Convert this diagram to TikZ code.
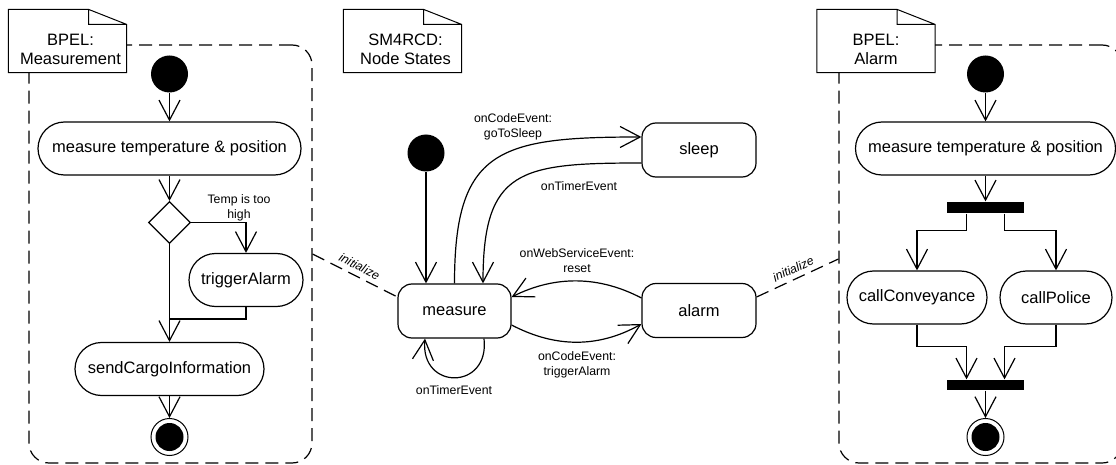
\documentclass[tikz,border=0pt]{standalone}
\usepackage{fontspec}
\setmainfont{Liberation Sans}
\usetikzlibrary{arrows.meta,calc,shapes.geometric}

% outline of a UML note with a folded top-right corner
\newcommand\foldnote[1]{%
  \draw[line width=1pt] (#1.south west) -- (#1.north west) -- ($(#1.north east)+(-38,0)$)
    -- ($(#1.north east)+(0,15)$) -- (#1.south east) -- cycle
    ($(#1.north east)+(-38,0)$) |- ($(#1.north east)+(0,15)$);}

\begin{document}
\begin{tikzpicture}[x=1pt,y=-1pt,line width=1.2pt,
  base/.style={font=\fontsize{16.5}{19}\selectfont},
  lbl/.style={font=\fontsize{12.3}{15}\selectfont,align=center,inner sep=1pt},
  action/.style={draw,rounded corners=26.5pt,minimum height=53pt,inner sep=0pt,base},
  state/.style={draw,rounded corners=14pt,minimum width=114pt,minimum height=54pt,inner sep=0pt,base},
  startdot/.style={circle,fill=black,minimum size=37pt,inner sep=0pt},
  enddot/.style={circle,draw,line width=1pt,minimum size=37pt,inner sep=0pt,
    path picture={\fill (path picture bounding box.center) circle (14pt);}},
  bar/.style={fill=black,minimum width=77pt,minimum height=11pt,inner sep=0pt},
  decision/.style={diamond,draw,minimum width=42pt,minimum height=42pt,inner sep=0pt},
  frame/.style={draw,dash pattern=on 13pt off 7pt,rounded corners=20pt,
    minimum width=283pt,minimum height=418pt,inner sep=0pt},
  note/.style={fill=white,minimum width=117pt,minimum height=62pt,inner sep=0pt},
  notetext/.style={base,align=center,inner sep=0pt},
  flow/.style={-{Straight Barb[length=20pt,width=21pt]}},
  link/.style={dash pattern=on 13pt off 7pt},
  initlbl/.style={lbl,font=\fontsize{12.3}{15}\selectfont\itshape,sloped,above=4pt},
]
\useasboundingbox (0,0) rectangle (1116,465);
\fill[white] (0,0) rectangle (1116,465);
\clip (0,0) rectangle (1116,465);

% ---------- BPEL process: Measurement ----------
\node[frame] (mframe) at (170.5,254) {};
\node[note] (mnote) at (67.5,41) {};
\foldnote{mnote}
\node[notetext] (mnotetext) at ($(mnote)+(3,8)$) {BPEL:\\Measurement};
\node[startdot] (mstart) at (169.5,74) {};
\node[action,minimum width=263pt] (mmeasure) at (169.5,148.5) {measure temperature \& position};
\node[decision] (mdec) at (169.5,222.5) {};
\node[action,minimum width=114pt] (malarm) at (246,280) {triggerAlarm};
\node[action,minimum width=189pt] (msend) at (169.5,369) {sendCargoInformation};
\node[enddot] (mend) at (169.5,437) {};
\coordinate (mmerge) at (169.5,319);
\node[lbl] (mcond) at (239,208) {Temp is too\\high};

\draw[flow] (mstart) -- (mmeasure);
\draw[flow] (mmeasure) -- (mdec);
\draw[flow] (mdec.east) -| (malarm.north);
\draw[flow] (mdec.south) -- (msend.north);
\draw (malarm.south) |- (mmerge);
\draw[flow] (msend) -- (mend);

% ---------- SM4RCD: node state machine ----------
\node[note] (snote) at (402.5,41) {};
\foldnote{snote}
\node[notetext] (snotetext) at ($(snote)+(3,8)$) {SM4RCD:\\Node States};
\node[startdot] (sstart) at (426,153) {};
\node[state,minimum width=113pt] (smeasure) at (454.5,311) {measure};
\node[state] (ssleep) at (699,150) {sleep};
\node[state] (salarm) at (699,310.5) {alarm};

\draw[flow] (sstart) -- (sstart |- smeasure.north);
\draw[flow] (smeasure.north) .. controls +(0,-134) and +(-143,0) .. ($(ssleep.west)+(0,-13)$);
\draw[flow] ($(ssleep.west)+(0,13)$) .. controls +(-122,0) and +(0,-114) .. ($(smeasure.north)+(28.5,0)$);
\draw[flow] ($(salarm.west)+(0,-12.5)$) .. controls +(-42,-22) and +(44,-22) .. ($(smeasure.east)+(0,-14)$);
\draw[flow] ($(smeasure.east)+(0,14)$) .. controls +(44,23) and +(-43,24) .. ($(salarm.west)+(0,13.5)$);
\draw[flow] ($(smeasure.south)+(29.5,0)$) .. controls +(6,52) and +(-5,52) .. ($(smeasure.south)+(-29.5,0)$);

\node[lbl] (lsleep) at (513,127) {onCodeEvent:\\goToSleep};
\node[lbl] (lwake) at (579,186) {onTimerEvent};
\node[lbl] (lreset) at (577,260.5) {onWebServiceEvent:\\reset};
\node[lbl] (ltrigger) at (577,364.5) {onCodeEvent:\\triggerAlarm};
\node[lbl] (lloop) at (454,390) {onTimerEvent};

% ---------- BPEL process: Alarm ----------
\node[frame] (aframe) at (980.5,254) {};
\node[note] (anote) at (876,41) {};
\foldnote{anote}
\node[notetext] (anotetext) at ($(anote)+(0,8)$) {BPEL:\\Alarm};
\node[startdot] (astart) at (985.5,74) {};
\node[action,minimum width=260pt] (ameasure) at (985.5,148.5) {measure temperature \& position};
\node[bar] (afork) at (985.5,207.5) {};
\node[action,minimum width=140pt] (aconv) at (917,297.5) {callConveyance};
\node[action,minimum width=112pt] (apolice) at (1056,297.5) {callPolice};
\node[bar,minimum height=10pt] (ajoin) at (985.5,385) {};
\node[enddot] (aend) at (985.5,437) {};

\draw[flow] (astart) -- (ameasure);
\draw[flow] (ameasure) -- (afork);
\draw[flow] ($(afork.south)+(-19,0)$) -- ++(0,17) -| (aconv.north);
\draw[flow] ($(afork.south)+(19,0)$) -- ++(0,17) -| (apolice.north);
\draw[flow] (aconv.south) -- ++(0,22) -| ($(ajoin.north)+(-19,0)$);
\draw[flow] (apolice.south) -- ++(0,22) -| ($(ajoin.north)+(19,0)$);
\draw[flow] (ajoin) -- (aend);

% ---------- initialisation links ----------
\draw[link] (mframe.east) -- node[initlbl] (linitm) {initialize} ($(smeasure.west)+(0,-14)$);
\draw[link] ($(salarm.east)+(0,-13.5)$) -- node[initlbl] (linita) {initialize} ($(aframe.west)+(0,5)$);
\end{tikzpicture}
\end{document}
